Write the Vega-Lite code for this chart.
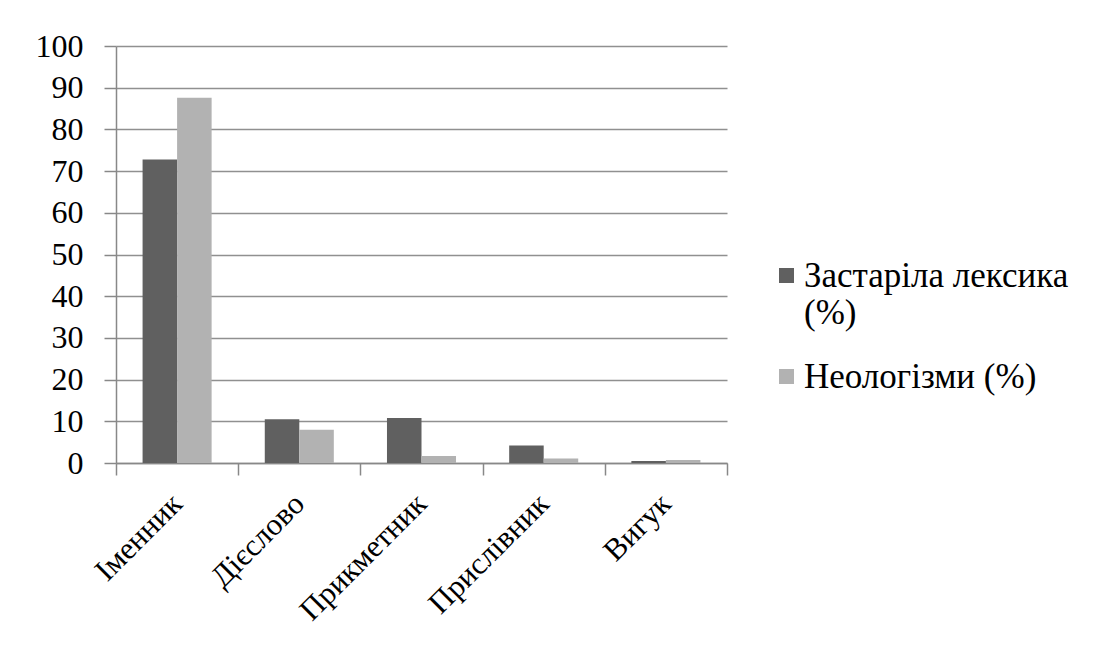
{
  "$schema": "https://vega.github.io/schema/vega-lite/v6.json",
  "width": 611,
  "height": 417,
  "autosize": {"type": "none"},
  "padding": {"left": 116, "top": 46, "right": 372, "bottom": 203},
  "background": "white",
  "data": {
    "values": [
      {"cat": "Іменник", "series": "Застаріла лексика (%)", "value": 72.8},
      {"cat": "Іменник", "series": "Неологізми (%)", "value": 87.6},
      {"cat": "Дієслово", "series": "Застаріла лексика (%)", "value": 10.5},
      {"cat": "Дієслово", "series": "Неологізми (%)", "value": 8.0},
      {"cat": "Прикметник", "series": "Застаріла лексика (%)", "value": 10.8},
      {"cat": "Прикметник", "series": "Неологізми (%)", "value": 1.7},
      {"cat": "Прислівник", "series": "Застаріла лексика (%)", "value": 4.2},
      {"cat": "Прислівник", "series": "Неологізми (%)", "value": 1.1},
      {"cat": "Вигук", "series": "Застаріла лексика (%)", "value": 0.5},
      {"cat": "Вигук", "series": "Неологізми (%)", "value": 0.7}
    ]
  },
  "mark": {"type": "bar"},
  "encoding": {
    "x": {
      "field": "cat",
      "type": "nominal",
      "sort": ["Іменник", "Дієслово", "Прикметник", "Прислівник", "Вигук"],
      "scale": {"paddingInner": 0, "paddingOuter": 0},
      "axis": {
        "title": null,
        "labelAngle": -45,
        "labelAlign": "right",
        "labelBaseline": "middle",
        "tickBand": "extent",
        "grid": false,
        "domainColor": "#888888",
        "domainWidth": 1.5,
        "tickColor": "#888888",
        "tickWidth": 1.5,
        "tickSize": 12,
        "labelPadding": 24,
        "labelFont": "Liberation Serif",
        "labelFontSize": 31,
        "labelColor": "black"
      }
    },
    "xOffset": {
      "field": "series",
      "sort": ["Застаріла лексика (%)", "Неологізми (%)"],
      "scale": {"paddingInner": 0, "paddingOuter": 0.77}
    },
    "y": {
      "field": "value",
      "type": "quantitative",
      "scale": {"domain": [0, 100], "nice": false},
      "axis": {
        "title": null,
        "values": [0, 10, 20, 30, 40, 50, 60, 70, 80, 90, 100],
        "grid": true,
        "gridColor": "#909090",
        "gridWidth": 1.5,
        "domainColor": "#888888",
        "domainWidth": 1.5,
        "tickColor": "#888888",
        "tickWidth": 1.5,
        "tickSize": 12,
        "labelPadding": 21,
        "labelFont": "Liberation Serif",
        "labelFontSize": 32,
        "labelColor": "black"
      }
    },
    "color": {
      "field": "series",
      "type": "nominal",
      "scale": {"domain": ["Застаріла лексика (%)", "Неологізми (%)"], "range": ["#606060", "#b2b2b2"]},
      "legend": {
        "title": null,
        "orient": "none",
        "legendX": 653,
        "legendY": 212,
        "symbolType": "square",
        "symbolSize": 225,
        "symbolStrokeWidth": 0,
        "labelFont": "Liberation Serif",
        "labelFontSize": 35,
        "labelColor": "black",
        "labelLimit": 400,
        "labelOffset": 0,
        "rowPadding": 28,
        "labelExpr": "datum.label == 'Застаріла лексика (%)' ? ['Застаріла лексика', '(%)'] : datum.label"
      }
    }
  },
  "config": {
    "font": "Liberation Serif",
    "view": {"stroke": null}
  }
}
